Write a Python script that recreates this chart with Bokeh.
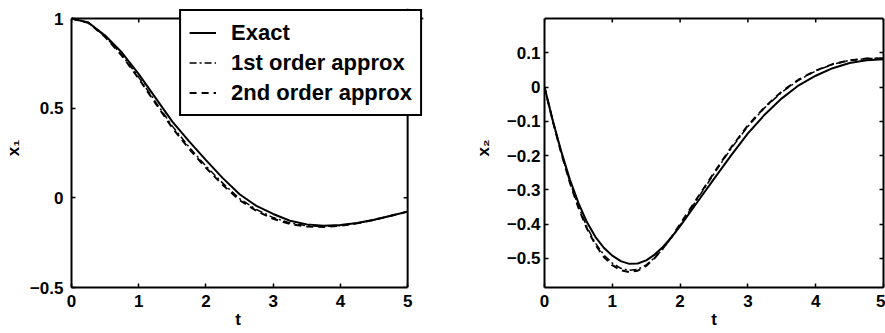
import math
from bokeh.plotting import figure
from bokeh.layouts import row
from bokeh.models import (Range1d, FixedTicker, LinearAxis, Legend, LegendItem,
                          CustomJSTickFormatter, Span)
from bokeh.embed import file_html
from bokeh.resources import INLINE

# ---------------- data ----------------
t1 = [0.0, 0.25, 0.5, 0.75, 1.0, 1.25, 1.5, 1.75, 2.0, 2.25, 2.5,
      2.75, 3.0, 3.25, 3.5, 3.75, 4.0, 4.25, 4.5, 4.75, 5.0]

x1_exact = [1.0, 0.978, 0.905, 0.81, 0.69, 0.557, 0.425, 0.315, 0.21, 0.11, 0.02,
            -0.045, -0.09, -0.128, -0.148, -0.155, -0.152, -0.14, -0.122, -0.1, -0.077]
x1_first = [1.0, 0.977, 0.900, 0.797, 0.672, 0.535, 0.400, 0.283, 0.177, 0.082, -0.005,
            -0.065, -0.11, -0.14, -0.156, -0.16, -0.155, -0.142, -0.123, -0.1, -0.077]
x1_second = [1.0, 0.976, 0.897, 0.792, 0.665, 0.527, 0.390, 0.273, 0.167, 0.072, -0.013,
             -0.073, -0.117, -0.146, -0.16, -0.162, -0.156, -0.142, -0.123, -0.1, -0.077]

t2 = [0.0, 0.125, 0.25, 0.375, 0.5, 0.625, 0.75, 0.875, 1.0, 1.125, 1.25, 1.375, 1.5,
      1.625, 1.75, 1.875, 2.0, 2.25, 2.5, 2.75, 3.0, 3.25, 3.5, 3.75, 4.0, 4.25, 4.5, 4.75, 5.0]

x2_exact = [0.0, -0.100, -0.19, -0.27, -0.338, -0.394, -0.437, -0.469, -0.492, -0.508, -0.516,
            -0.515, -0.506, -0.489, -0.466, -0.438, -0.406, -0.337, -0.268,
            -0.2, -0.135, -0.08, -0.033, 0.005, 0.033, 0.055, 0.07, 0.078, 0.081]
x2_first = [0.0, -0.101, -0.193, -0.277, -0.348, -0.408, -0.455, -0.49, -0.514, -0.529, -0.535,
            -0.532, -0.519, -0.498, -0.471, -0.439, -0.403, -0.328, -0.253,
            -0.18, -0.115, -0.06, -0.015, 0.02, 0.047, 0.066, 0.078, 0.083, 0.084]
x2_second = [0.0, -0.102, -0.195, -0.28, -0.352, -0.413, -0.46, -0.496, -0.52, -0.535, -0.54,
             -0.536, -0.522, -0.499, -0.47, -0.437, -0.40, -0.325, -0.25,
             -0.177, -0.112, -0.058, -0.013, 0.022, 0.048, 0.067, 0.078, 0.083, 0.084]

x_ticks = [0, 1, 2, 3, 4, 5]
y1_ticks = [-0.5, 0, 0.5, 1]
y2_ticks = [-0.5, -0.4, -0.3, -0.2, -0.1, 0, 0.1]
legend_labels = ["Exact", "1st order approx", "2nd order approx"]
x_label = "t"
y1_label = "x\u2081"
y2_label = "x\u2082"

T_LIM = (0, 5)
Y1_LIM = (-0.5, 1.0)
Y2_LIM = (-0.585, 0.2)

FONT = "Liberation Sans"
BOX_H = 269.0   # px height of each axes box
TOP_GAP = 10.0  # px of frame kept above each box (room for the overhanging legend)

fmt_code = """
var s;
if (Math.abs(tick) < 1e-9) { s = "0"; }
else if (Math.abs(tick - Math.round(tick)) < 1e-9) { s = Math.round(tick).toString(); }
else { s = tick.toFixed(1); }
return s.replace("-", "\u2212");
"""

STYLES = [dict(line_color="black", line_width=2),
          dict(line_color="black", line_width=1.5, line_dash="7 3 2 3"),
          dict(line_color="black", line_width=2, line_dash="7 5")]


def tick_style(ax):
    ax.major_tick_in = 4
    ax.major_tick_out = 0
    ax.major_tick_line_color = "black"
    ax.major_tick_line_width = 1.5
    ax.minor_tick_line_color = None
    ax.axis_line_color = "black"
    ax.axis_line_width = 2


def style_axis(ax, ticks, standoff, label_standoff, bounds):
    ax.ticker = FixedTicker(ticks=ticks)
    ax.formatter = CustomJSTickFormatter(code=fmt_code)
    tick_style(ax)
    ax.bounds = bounds
    ax.major_label_text_font = FONT
    ax.major_label_text_font_style = "bold"
    ax.major_label_text_font_size = "17px"
    ax.major_label_text_color = "black"
    ax.major_label_standoff = standoff
    ax.axis_label_text_font = FONT
    ax.axis_label_text_font_style = "bold"
    ax.axis_label_text_font_size = "17px"
    ax.axis_label_text_color = "black"
    ax.axis_label_standoff = label_standoff


def blank_axis(ticks, bounds):
    ax = LinearAxis(ticker=FixedTicker(ticks=ticks))
    ax.formatter = CustomJSTickFormatter(code="return '';")
    tick_style(ax)
    ax.bounds = bounds
    ax.major_label_text_font_size = "0px"
    ax.major_label_standoff = 0
    ax.axis_label_standoff = 0
    return ax


def make_fig(width, bl, br, x_end, ylim, yticks, xlab, ylab, ystand, ylabstand, right_axis):
    y_pad = (ylim[1] - ylim[0]) * TOP_GAP / BOX_H
    p = figure(width=width, height=333, x_range=Range1d(T_LIM[0], x_end),
               y_range=Range1d(ylim[0], ylim[1] + y_pad), title=None,
               output_backend="svg", toolbar_location=None,
               min_border_left=bl, min_border_right=br, min_border_top=8, min_border_bottom=46)
    p.grid.visible = False
    p.outline_line_color = None
    p.background_fill_color = "white"
    p.border_fill_color = "white"
    style_axis(p.xaxis[0], x_ticks, 7, 0, T_LIM)
    style_axis(p.yaxis[0], yticks, ystand, ylabstand, ylim)
    p.xaxis[0].axis_label = xlab
    p.yaxis[0].axis_label = ylab
    # top edge of the box with inward ticks
    p.add_layout(Span(location=ylim[1], dimension="width", line_color="black", line_width=2))
    p.ray(x=x_ticks, y=[ylim[1]] * len(x_ticks), length=4, length_units="screen",
          angle=-math.pi / 2, line_color="black", line_width=1.5)
    # right edge of the box with inward ticks
    if right_axis:
        p.add_layout(blank_axis(yticks, ylim), "right")
    else:
        p.add_layout(Span(location=T_LIM[1], dimension="height", line_color="black", line_width=2))
        p.ray(x=[T_LIM[1]] * len(yticks), y=yticks, length=4, length_units="screen",
              angle=math.pi, line_color="black", line_width=1.5)
    return p


# left plot: frame wider than the box so the legend can overhang it;
# non-breaking spaces keep the "t" centred under the box rather than the wider frame
x_pad = 5 * 16 / 339.0
p1 = make_fig(470, 68, 47, T_LIM[1] + x_pad, Y1_LIM, y1_ticks,
              x_label + "\u00a0" * 4, y1_label, 8, 4, False)
r1 = p1.line(t1, x1_first, **STYLES[1])
r2 = p1.line(t1, x1_second, **STYLES[2])
r0 = p1.line(t1, x1_exact, **STYLES[0])

legend = Legend(items=[LegendItem(label=lab, renderers=[r]) for lab, r in zip(legend_labels, (r0, r1, r2))],
                location="top_right")
legend.border_line_color = "black"
legend.border_line_alpha = 1.0
legend.border_line_width = 2
legend.background_fill_color = "white"
legend.background_fill_alpha = 1.0
legend.label_text_font = FONT
legend.label_text_font_style = "bold"
legend.label_text_font_size = "22px"
legend.label_text_color = "black"
legend.glyph_width = 27
legend.glyph_height = 27
legend.label_height = 27
legend.label_standoff = 15
legend.spacing = 3
legend.padding = 8
legend.margin = 1
p1.add_layout(legend)

# right plot
p2 = make_fig(415, 68, 2, T_LIM[1], Y2_LIM, y2_ticks, x_label, y2_label, 4, 11, True)
p2.line(t2, x2_first, **STYLES[1])
p2.line(t2, x2_second, **STYLES[2])
p2.line(t2, x2_exact, **STYLES[0])

layout = row(p1, p2)
open("out.html", "w").write(file_html(layout, INLINE))
